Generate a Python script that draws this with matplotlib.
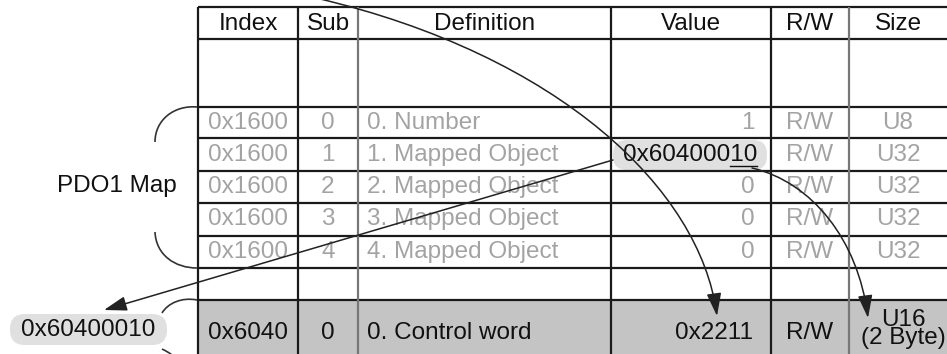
import matplotlib
matplotlib.use("Agg")
import matplotlib.pyplot as plt
from matplotlib.path import Path
from matplotlib.patches import FancyArrowPatch, PathPatch, Rectangle, FancyBboxPatch

plt.rcParams['font.family'] = ['Liberation Sans', 'DejaVu Sans']

headers = ["Index", "Sub", "Definition", "Value", "R/W", "Size"]
index_col = ["0x1600", "0x1600", "0x1600", "0x1600", "0x1600"]
sub_col = ["0", "1", "2", "3", "4"]
def_col = ["0. Number", "1. Mapped Object", "2. Mapped Object", "3. Mapped Object", "4. Mapped Object"]
value_col = ["1", "0x60400010", "0", "0", "0"]
rw_col = ["R/W", "R/W", "R/W", "R/W", "R/W"]
size_col = ["U8", "U32", "U32", "U32", "U32"]
target_row = ["0x6040", "0", "0. Control word", "0x2211", "R/W", "U16\n(2 Byte)"]
map_label = "PDO1 Map"
mapped_value = "0x60400010"

W, H = 947, 354
fig = plt.figure(figsize=(W / 100, H / 100), dpi=100)
ax = fig.add_axes([0, 0, 1, 1])
ax.set_xlim(0, W)
ax.set_ylim(H, 0)
ax.axis('off')

xcols = [198, 298, 358, 611, 771, 849, 949]
yrows = [7, 39, 107, 138, 171, 203, 236, 268, 300]
fs = 17.5
grey_txt = '#a3a3a3'

# gray row
ax.add_patch(Rectangle((198, 300), 751, 60, facecolor='#c4c4c4', edgecolor='none', zorder=0))

for y in yrows:
    ax.plot([198, 949], [y, y], color='#1a1a1a', lw=1.6, zorder=2, solid_capstyle='butt')
for i, x in enumerate(xcols[:-1]):
    c = '#777777' if i in (2, 5) else '#1a1a1a'
    ax.plot([x, x], [7, 360], color=c, lw=1.6, zorder=2, solid_capstyle='butt')

centers = [(xcols[i] + xcols[i + 1]) / 2 for i in range(6)]
centers[5] = 898
for h, cx in zip(headers, centers):
    ax.text(cx, 24, h, ha='center', va='center', fontsize=fs, color='#111111', zorder=3)

renderer = fig.canvas.get_renderer()
row_y = [123, 155, 187, 219, 252]
for k, y in enumerate(row_y):
    ax.text(centers[0], y, index_col[k], ha='center', va='center', fontsize=fs, color=grey_txt, zorder=3)
    ax.text(centers[1], y, sub_col[k], ha='center', va='center', fontsize=fs, color=grey_txt, zorder=3)
    ax.text(367, y, def_col[k], ha='left', va='center', fontsize=fs, color=grey_txt, zorder=3)
    if k == 1:
        ax.add_patch(FancyBboxPatch((613, 140), 154, 30, boxstyle='round,pad=0,rounding_size=14',
                                    facecolor='#e0e0e0', edgecolor='none', zorder=1))
        t = ax.text(757, y, value_col[k], ha='right', va='center', fontsize=fs, color='#111111', zorder=3)
        bb = t.get_window_extent(renderer)
        tp = ax.text(0, 0, value_col[k][:-2], fontsize=fs, alpha=0)
        wp = tp.get_window_extent(renderer).width
        tp.remove()
        ax.plot([bb.x0 + wp, bb.x1], [166, 166], color='#111111', lw=1.0, zorder=3)
    else:
        ax.text(755, y, value_col[k], ha='right', va='center', fontsize=fs, color=grey_txt, zorder=3)
    ax.text(centers[4], y, rw_col[k], ha='center', va='center', fontsize=fs, color=grey_txt, zorder=3)
    ax.text(centers[5], y, size_col[k], ha='center', va='center', fontsize=fs, color=grey_txt, zorder=3)

ty = 333
ax.text(centers[0], ty, target_row[0], ha='center', va='center', fontsize=fs, color='#111111', zorder=3)
ax.text(centers[1], ty, target_row[1], ha='center', va='center', fontsize=fs, color='#111111', zorder=3)
ax.text(367, ty, target_row[2], ha='left', va='center', fontsize=fs, color='#111111', zorder=3)
ax.text(753, ty, target_row[3], ha='right', va='center', fontsize=fs, color='#111111', zorder=3)
ax.text(centers[4], ty, target_row[4], ha='center', va='center', fontsize=fs, color='#111111', zorder=3)
ax.text(903, 329, target_row[5], ha='center', va='center', fontsize=fs, color='#111111',
        linespacing=0.72, zorder=3)

# left labels
ax.text(177, 186, map_label, ha='right', va='center', fontsize=fs, color='#111111')
ax.add_patch(FancyBboxPatch((10, 314), 157, 31, boxstyle='round,pad=0,rounding_size=15',
                            facecolor='#e0e0e0', edgecolor='none', zorder=1))
ax.text(88, 330, mapped_value, ha='center', va='center', fontsize=fs, color='#111111', zorder=3)

# braces
def curve(pts, lw=1.2, color='#333333'):
    p = Path(pts, [Path.MOVETO, Path.CURVE4, Path.CURVE4, Path.CURVE4])
    ax.add_patch(PathPatch(p, facecolor='none', edgecolor=color, lw=lw, zorder=2))

curve([(197, 107), (174, 105), (155, 120), (155, 142)])
curve([(155, 232), (156, 255), (175, 268), (197, 268)])
curve([(197, 300), (182, 297), (168, 303), (162, 313)])
curve([(162, 349), (166, 351), (170, 353), (173, 356)])

# arrows
def arrow(pts):
    if len(pts) == 2:
        p = Path(pts, [Path.MOVETO, Path.LINETO])
    else:
        p = Path(pts, [Path.MOVETO, Path.CURVE4, Path.CURVE4, Path.CURVE4])
    ax.add_patch(FancyArrowPatch(path=p, arrowstyle='-|>,head_length=1.0,head_width=0.32',
                                 mutation_scale=14, color='#222222', lw=1.1, zorder=4))

arrow([(316, -2), (560, 55), (700, 190), (717, 316)])
arrow([(752, 168), (812, 182), (858, 240), (868, 318)])
arrow([(613, 160), (104, 310)])

fig.savefig('out.png', dpi=100)
